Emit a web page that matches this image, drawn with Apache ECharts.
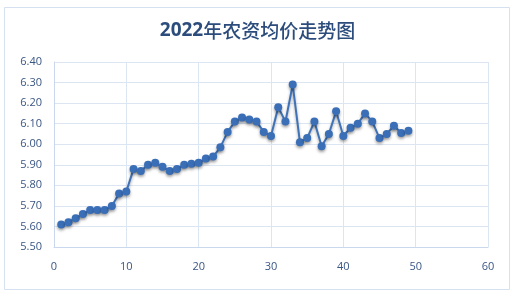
<!DOCTYPE html>
<html><head><meta charset="utf-8">
<script src="https://cdn.jsdelivr.net/npm/echarts@6/dist/echarts.min.js"></script>
<style>html,body{margin:0;padding:0;background:#fff}#c{width:515px;height:296px}</style>
</head><body><div id="c"></div>
<script>
const titleYear = '2022';
const titleRest = '年农资均价走势图';
const xValues = [1,2,3,4,5,6,7,8,9,10,11,12,13,14,15,16,17,18,19,20,21,22,23,24,25,26,27,28,29,30,31,32,33,34,35,36,37,38,39,40,41,42,43,44,45,46,47,48,49];
const prices = [5.61,5.62,5.64,5.66,5.68,5.68,5.68,5.70,5.76,5.77,5.88,5.87,5.90,5.91,5.89,5.87,5.88,5.90,5.905,5.91,5.93,5.94,5.985,6.06,6.11,6.13,6.12,6.11,6.06,6.04,6.18,6.11,6.29,6.01,6.03,6.11,5.99,6.05,6.16,6.04,6.08,6.10,6.15,6.11,6.03,6.05,6.09,6.055,6.065];
const chart = echarts.init(document.getElementById('c'));
const labelColor = '#3A5683';
chart.setOption({
  backgroundColor: '#fff',
  animation: false,
  graphic: [{type:'rect', shape:{x:4.5,y:7.5,width:505,height:282}, style:{fill:'none', stroke:'#D5E1F1', lineWidth:1}}],
  title: {text: '{a|' + titleYear + '}{b|' + titleRest + '}', left: 'center', top: 16,
    textStyle:{rich:{
      a:{fontSize:19, fontWeight:'bold', color:'#2C4C7C', fontFamily:'"Open Sans", sans-serif'},
      b:{fontSize:19, fontWeight:500, color:'#2C4C7C', fontFamily:'"Noto Sans CJK SC", sans-serif'}}}},
  grid: {left:54, right:27, top:62, bottom:49},
  xAxis: {type:'value', min:0, max:60, interval:10,
    axisLine:{show:true, lineStyle:{color:'#C9D8EC'}}, axisTick:{show:false},
    splitLine:{show:true, lineStyle:{color:'#DCE6F3'}},
    axisLabel:{color:labelColor, fontSize:11, margin:14, fontFamily:'"Open Sans", sans-serif'}},
  yAxis: {type:'value', min:5.5, max:6.4, interval:0.1,
    axisLine:{show:true, lineStyle:{color:'#C9D8EC'}}, axisTick:{show:false},
    splitLine:{show:true, lineStyle:{color:'#DCE6F3'}},
    axisLabel:{color:labelColor, fontSize:11, margin:12, fontFamily:'"Open Sans", sans-serif', formatter: v => v.toFixed(2)}},
  series: [{type:'line', data: xValues.map((x,i)=>[x, prices[i]]),
    symbol:'circle', symbolSize:8, showSymbol:true,
    lineStyle:{color:'#3F72B8', width:2, shadowColor:'rgba(0,0,0,0.35)', shadowBlur:3, shadowOffsetY:2},
    itemStyle:{color:'#3A6FB8', borderWidth:0, shadowColor:'rgba(0,0,0,0.35)', shadowBlur:3, shadowOffsetY:2}}]
});
</script></body></html>
